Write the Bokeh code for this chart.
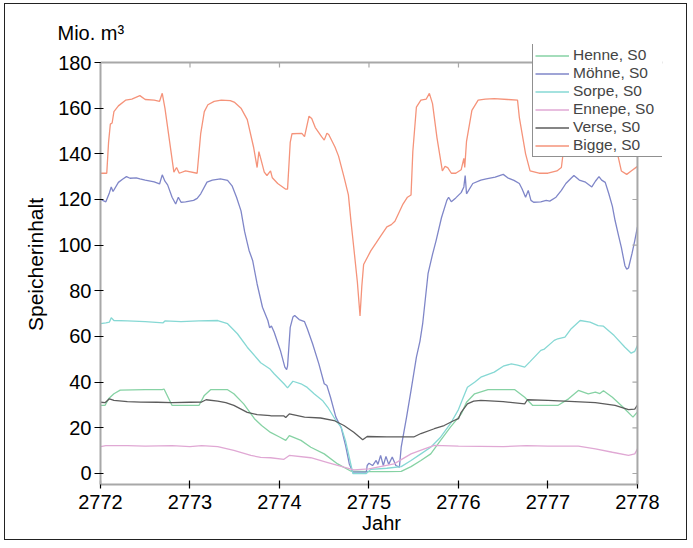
from bokeh.plotting import figure
from bokeh.models import FixedTicker, Legend, LegendItem, Span
from bokeh.embed import file_html
from bokeh.resources import INLINE

START_YEAR = 2772
year_ticks = [2772, 2773, 2774, 2775, 2776, 2777, 2778]
value_ticks = [0, 20, 40, 60, 80, 100, 120, 140, 160, 180]
Y_MIN, Y_MAX = -4.82, 180

names = ["Henne, S0", "Möhne, S0", "Sorpe, S0", "Ennepe, S0", "Verse, S0", "Bigge, S0"]
colors = ["#86d2a4", "#7f86c8", "#86d8d4", "#e0a8d4", "#5c5c5c", "#f5937a"]

# offsets in years from START_YEAR, storage volume (Mio. m3)
henne_t = [0, 0.05, 0.09, 0.15, 0.22, 0.5, 0.69, 0.71, 0.8, 1.1, 1.16, 1.23, 1.42, 1.49, 1.6, 1.72, 1.8,
           1.9, 2.0, 2.07, 2.11, 2.24, 2.35, 2.5, 2.65, 2.8, 3.0, 3.2, 3.36, 3.47, 3.58, 3.69, 3.8, 3.91,
           4.03, 4.09, 4.18, 4.33, 4.63, 4.74, 4.83, 5.11, 5.23, 5.34, 5.45, 5.53, 5.58, 5.62, 5.72, 5.84,
           5.95, 6.0]
henne_v = [29.8, 29.8, 32.7, 34.9, 36.5, 36.7, 36.7, 37, 29.8, 29.8, 34.2, 36.7, 36.7, 34.9, 30.5, 24, 21,
           18, 16, 14.5, 16.6, 14.5, 11.5, 8.6, 4.2, 1, 0.8, 0.8, 0.9, 3, 5.7, 8.6, 14.5, 20.3,
           26, 31.2, 34.9, 36.7, 36.7, 33.4, 29.8, 29.8, 32.7, 36.4, 34.9, 35.6, 35, 36.2, 33.4, 29,
           24.7, 27]

moehne_t = [0, 0.03, 0.06, 0.08, 0.1, 0.12, 0.14, 0.2, 0.25, 0.29, 0.33, 0.4, 0.44, 0.5, 0.6, 0.66, 0.69,
            0.72, 0.75, 0.8, 0.84, 0.87, 0.9, 0.95, 1.04, 1.08, 1.12, 1.19, 1.25, 1.34, 1.42, 1.47, 1.52,
            1.57, 1.61, 1.64, 1.66, 1.7, 1.75, 1.81, 1.87, 1.89, 1.91, 1.94, 2.01, 2.06, 2.08, 2.09, 2.12,
            2.15, 2.17, 2.22, 2.28, 2.31, 2.37, 2.44, 2.5, 2.53, 2.57, 2.63, 2.69, 2.74, 2.78, 2.82, 2.97,
            2.98, 3.0, 3.04, 3.08, 3.1, 3.13, 3.16, 3.19, 3.22, 3.26, 3.3, 3.34, 3.36, 3.42, 3.47, 3.53,
            3.57, 3.6, 3.66, 3.71, 3.75, 3.81, 3.87, 3.89, 3.92, 3.97, 4.03, 4.06, 4.075, 4.09, 4.16, 4.25,
            4.31, 4.41, 4.5, 4.55, 4.62, 4.68, 4.71, 4.75, 4.78, 4.81, 4.84, 4.92, 4.98, 5.02, 5.09, 5.15,
            5.2, 5.25, 5.29, 5.35, 5.42, 5.49, 5.53, 5.57, 5.6, 5.64, 5.68, 5.72, 5.75, 5.79, 5.82, 5.86,
            5.88, 5.9, 5.94, 5.97, 6.0]
moehne_v = [120, 119.5, 119, 121, 123, 125.5, 123.5, 127.5, 129, 130, 129.3, 129.5, 129, 128.5, 127.7, 126.8, 130.8,
            128, 126.4, 121, 118, 121, 118.8, 119, 119.6, 120.5, 122.5, 127.6, 128.5, 129, 128.4, 126, 121,
            115, 106, 101, 97.7, 93.3, 83, 72.8, 67, 63.8, 64.6, 62, 53.9, 46.6, 45.5, 47, 64,
            68.5, 69.2, 67.4, 66.5, 63.5, 56.8, 48, 39.3, 38.5, 33.4, 24.7, 20, 12, 4.2, 0.6, 0.6,
            3.5, 4.5, 3.5, 5.7, 4, 7.9, 3.5, 7.5, 4, 7.2, 3.5, 2.8, 11.5, 24.7, 36.4, 51,
            58, 65.6, 87.5, 96, 102, 112, 119.6, 121, 119, 120.7, 123, 125.5, 130.5, 122.5, 127, 128.5,
            129, 129.8, 131, 129.5, 128.4, 127, 124.7, 121, 124, 119.6, 118.8, 119, 119.6, 119.3, 121, 124,
            127, 129, 130.5, 128.5, 127.6, 125.5, 128, 130, 128.5, 127.5, 122.5, 117, 110.8, 104, 99, 91,
            89.5, 90, 96.5, 102, 108]

sorpe_t = [0, 0.06, 0.1, 0.12, 0.15, 0.3, 0.5, 0.7, 0.72, 0.9, 1.1, 1.31, 1.42, 1.53, 1.64, 1.79, 1.89,
           1.94, 2.05, 2.09, 2.15, 2.24, 2.31, 2.39, 2.48, 2.54, 2.63, 2.69, 2.74, 2.78, 2.82, 2.97, 3.02,
           3.2, 3.36, 3.47, 3.58, 3.69, 3.8, 3.91, 4.0, 4.05, 4.1, 4.18, 4.25, 4.4, 4.5, 4.59, 4.66, 4.74,
           4.8, 4.92, 4.96, 5.07, 5.11, 5.19, 5.26, 5.36, 5.47, 5.56, 5.62, 5.74, 5.86, 5.93, 5.97, 6.0]
sorpe_v = [65.6, 66, 66.3, 68.2, 67, 66.8, 66.5, 66, 66.8, 66.5, 66.8, 67, 65.6, 61.2, 55.3, 48.5, 45.9,
           43.7, 39.3, 37.5, 40.4, 39.3, 37.7, 34.8, 32, 29, 23.2, 20.3, 14, 7, 0, 0, 1.8,
           2.3, 3, 5.7, 8.6, 11.5, 15.9, 21.8, 28, 33, 37.8, 40, 42.2, 44.4, 47, 48, 47.5, 46.6,
           49, 53.9, 54.5, 58.3, 59, 59.7, 63.4, 67, 66.3, 64.8, 64.5, 60.4, 55.3, 52.7, 53.5, 56]

ennepe_t = [0, 0.06, 0.3, 0.5, 0.8, 1.0, 1.13, 1.31, 1.49, 1.68, 1.79, 1.9, 2.05, 2.11, 2.35, 2.53, 2.72,
            2.83, 3.0, 3.28, 3.47, 3.62, 3.73, 4.0, 4.5, 4.76, 5.0, 5.34, 5.53, 5.72, 5.9, 5.97, 6.0]
ennepe_v = [11.8, 12.2, 12.2, 12, 12.2, 11.8, 12.2, 11.8, 10.1, 7.9, 7.1, 6.9, 6.2, 7.9, 6.9, 4.9, 2.8,
            1.6, 2, 4.2, 8.6, 10.8, 12.3, 12, 11.8, 12.2, 12, 12, 10.8, 9.3, 7.9, 8.6, 10.8]

verse_t = [0, 0.05, 0.1, 0.15, 0.3, 0.45, 0.63, 0.8, 1.0, 1.13, 1.18, 1.31, 1.4, 1.49, 1.64, 1.75, 1.9,
           2.05, 2.07, 2.11, 2.28, 2.46, 2.61, 2.72, 2.83, 2.93, 2.98, 3.2, 3.5, 3.58, 3.73, 3.84, 3.95,
           4.0, 4.03, 4.1, 4.17, 4.25, 4.5, 4.74, 4.77, 5.0, 5.3, 5.53, 5.75, 5.9, 5.97, 6.0]
verse_v = [31.2, 31, 32.7, 32, 31.5, 31.3, 31.2, 31, 31.2, 31.3, 32.3, 31.7, 31, 29.8, 26.8, 25.8, 25.3,
           25.2, 24.5, 26.1, 24.7, 24.3, 23.2, 21, 18.1, 14.8, 16.2, 16, 16, 17.5, 19.6, 21, 23.2,
           24, 26.8, 30.5, 31.7, 32, 31.5, 30.5, 32.3, 32, 31.5, 31, 29.8, 28, 28.2, 30]

bigge_t = [0, 0.07, 0.09, 0.11, 0.13, 0.15, 0.2, 0.28, 0.35, 0.44, 0.5, 0.6, 0.66, 0.69, 0.72, 0.82, 0.85,
           0.88, 0.95, 1.08, 1.12, 1.16, 1.2, 1.27, 1.35, 1.45, 1.5, 1.57, 1.64, 1.71, 1.75, 1.77, 1.79,
           1.83, 1.86, 1.9, 1.92, 1.98, 2.07, 2.09, 2.12, 2.14, 2.25, 2.28, 2.33, 2.36, 2.40, 2.47, 2.50,
           2.53, 2.55, 2.62, 2.66, 2.72, 2.77, 2.80, 2.83, 2.87, 2.90, 2.92, 2.94, 3.02, 3.08, 3.13, 3.20,
           3.25, 3.29, 3.38, 3.43, 3.47, 3.49, 3.53, 3.58, 3.64, 3.675, 3.71, 3.76, 3.82, 3.85, 3.88, 3.92,
           3.97, 4.03, 4.06, 4.07, 4.09, 4.15, 4.22, 4.3, 4.4, 4.55, 4.66, 4.68, 4.75, 4.8, 4.9, 5.0, 5.1,
           5.15, 5.2, 5.25, 5.3, 5.5, 5.65, 5.72, 5.82, 5.88, 5.93, 6.0]
bigge_v = [131.5, 131.5, 145, 153, 153.5, 158.5, 161, 163.5, 164, 165.5, 163.8, 163.5, 163, 166.5, 160, 132, 134,
           131.5, 132.5, 131.5, 149, 158.5, 161.5, 163, 163.5, 163.3, 162.5, 160, 155, 143, 134, 141, 138,
           132, 130.5, 132.5, 129.5, 127, 124.5, 124.5, 145, 148.8, 149, 147.5, 156.5, 155.5, 151.5, 147.5, 146,
           149, 148.5, 143, 139, 130, 122, 110, 99, 84, 69, 82, 91.5, 97.5, 101, 104, 108,
           109, 110.5, 118, 121, 122, 141, 160.5, 163.5, 164, 166.5, 162, 147, 132.5, 134.5, 134, 131.5,
           131.5, 133, 138, 134, 145.5, 159, 163.5, 164, 164.2, 163.8, 163.5, 156, 140, 132.5, 131.5, 131.5, 132.5,
           134, 150, 160, 163, 163.5, 162, 150, 132.5, 131, 132.5, 134.5]

series_t = [henne_t, moehne_t, sorpe_t, ennepe_t, verse_t, bigge_t]
series_v = [henne_v, moehne_v, sorpe_v, ennepe_v, verse_v, bigge_v]

FONT = "Liberation Sans"
AXIS_GRAY = "#a8a8a8"

# pixel layout (frame extended to the right/top so the legend can overlap the axes box)
PX_PER_YEAR = 89.33
PX_PER_UNIT = 2.2833
EXTRA_RIGHT_PX = 25
EXTRA_TOP_PX = 18
x_end = year_ticks[-1] + EXTRA_RIGHT_PX / PX_PER_YEAR
y_end = Y_MAX + EXTRA_TOP_PX / PX_PER_UNIT

p = figure(width=683, height=537, x_range=(year_ticks[0], x_end), y_range=(Y_MIN, y_end),
           output_backend="svg", toolbar_location=None,
           min_border_left=95, min_border_right=26, min_border_top=40, min_border_bottom=57)
p.styles = {"border": "1px solid #222", "margin": "3px 0px 0px 4px"}
p.outline_line_color = None
p.xgrid.visible = False
p.ygrid.visible = False

items = []
for name, col, ts, vs in zip(names, colors, series_t, series_v):
    xs = [START_YEAR + t for t in ts]
    r = p.line(xs, vs, line_color=col, line_width=1.3)
    items.append(LegendItem(label=name, renderers=[r]))

# top / right box lines with small inward ticks
p.add_layout(Span(location=year_ticks[-1], dimension="height", line_color=AXIS_GRAY, line_width=2))
p.add_layout(Span(location=Y_MAX, dimension="width", line_color=AXIS_GRAY, line_width=2))
tick_len_y = 5 / PX_PER_UNIT
tick_len_x = 5 / PX_PER_YEAR
inner_years = year_ticks[1:-1]
p.segment(x0=inner_years, y0=[Y_MAX] * len(inner_years), x1=inner_years,
          y1=[Y_MAX - tick_len_y] * len(inner_years), line_color=AXIS_GRAY, line_width=1.2)
inner_vals = value_ticks[:-1]
p.segment(x0=[year_ticks[-1]] * len(inner_vals), y0=inner_vals,
          x1=[year_ticks[-1] - tick_len_x] * len(inner_vals), y1=inner_vals,
          line_color=AXIS_GRAY, line_width=1.2)

# bottom axis
xa = p.xaxis[0]
xa.ticker = FixedTicker(ticks=year_ticks)
xa.bounds = (year_ticks[0], year_ticks[-1])
xa.axis_label = "Jahr"
# left axis
ya = p.yaxis[0]
ya.ticker = FixedTicker(ticks=value_ticks)
ya.bounds = (Y_MIN, Y_MAX)
ya.axis_label = "Speicherinhalt"

for ax in (xa, ya):
    ax.axis_line_color = AXIS_GRAY
    ax.axis_line_width = 2
    ax.major_tick_line_color = "black"
    ax.major_tick_line_width = 1.2
    ax.minor_tick_line_color = None
    ax.major_label_text_font = FONT
    ax.major_label_text_font_size = "20px"
    ax.major_label_text_color = "black"
    ax.axis_label_text_font = FONT
    ax.axis_label_text_font_size = "20px"
    ax.axis_label_text_font_style = "normal"
    ax.axis_label_text_color = "black"

ya.axis_label_text_font_size = "21px"
xa.major_tick_in = 4
xa.major_tick_out = 4
xa.major_label_standoff = 6
xa.axis_label_standoff = 0
ya.major_tick_in = 3
ya.major_tick_out = 6
ya.major_label_standoff = 3
ya.axis_label_standoff = 8

# unit label above the value axis
p.title.text = "Mio. m³"
p.title.align = "left"
p.title.offset = -43
p.title.standoff = 2
p.title.text_font = FONT
p.title.text_font_size = "20px"
p.title.text_font_style = "normal"
p.title.text_color = "black"

legend = Legend(items=items, location=(432, 327))
legend.label_text_font = FONT
legend.label_text_font_size = "15.5px"
legend.label_text_line_height = 1.0
legend.glyph_width = 34
legend.glyph_height = 15
legend.label_height = 15
legend.label_width = 89
legend.label_standoff = 4
legend.spacing = 0
legend.padding = 2
legend.margin = 0
legend.border_line_color = "#222"
legend.border_line_width = 1
legend.background_fill_color = "white"
legend.background_fill_alpha = 1
p.add_layout(legend)

open("out.html", "w").write(file_html(p, INLINE))
